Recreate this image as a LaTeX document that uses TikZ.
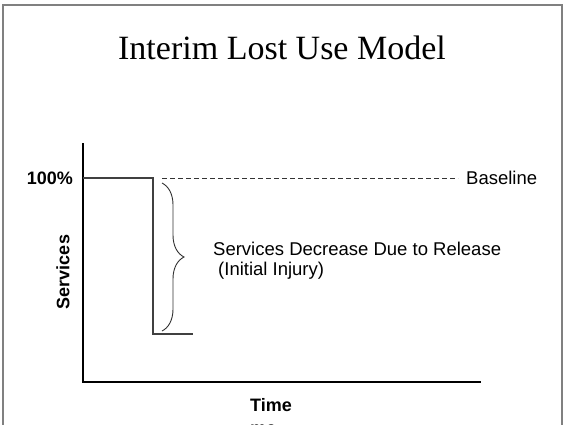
\documentclass[tikz,border=0pt]{standalone}
\usepackage{fontspec}
\setmainfont{Liberation Sans}
\newfontfamily\titlefamily{Liberation Serif}
\usetikzlibrary{positioning,calc,decorations.pathreplacing}
\tikzset{>=stealth}
\tikzset{
  frame/.style={draw=black!50,line width=1.5pt},
  axis/.style={draw=black,line width=2pt},
  level/.style={draw=black!75,line width=1.2pt},
  base/.style={draw=black!80,line width=0.9pt,dash pattern=on 5pt off 3pt},
  lbl/.style={inner sep=0pt,font=\fontsize{18.5}{22}\selectfont},
  blbl/.style={inner sep=0pt,font=\bfseries\fontsize{18}{23}\selectfont}
}

\begin{document}
\begin{tikzpicture}[x=1pt,y=-1pt]
\useasboundingbox (0,0) rectangle (564,424);
\clip (0,0) rectangle (564,424);
\fill[white] (0,0) rectangle (564,424);
\draw[frame] (3,5) rectangle (562,460);

\node[anchor=base,inner sep=0pt,font=\titlefamily\fontsize{34}{39}\selectfont] (title) at (282,59) {Interim Lost Use Model};

% axes
\coordinate (O) at (83,382);
\coordinate (Ytop) at (83,143);
\coordinate (Xend) at (481,382);
\draw[axis] (Ytop) -- (O) -- (Xend);

% service level before and after the release
\coordinate (L0) at (83,178);
\coordinate (L1) at (153,178);
\coordinate (L2) at (153,334);
\coordinate (L3) at (193,334);
\draw[level] (L0) -- (L1) -- (L2) -- (L3);

\coordinate (B0) at (162,178);
\coordinate (B1) at (458,178);
\draw[base] (B0) -- (B1);
\node[lbl,anchor=base west] (baseline) at (466,184) {Baseline};

\node[blbl,anchor=base east] (full) at (73,184) {100\%};
\node[blbl,rotate=90] (services) at (63,272) {Services};
\node[blbl,anchor=base west] (time) at (250,411) {Time};
\node[blbl,anchor=base west] (me) at (250,434) {me};

% the drop
\coordinate (Btop) at (162,183);
\coordinate (Bbot) at (162,331);
\draw[black!80,line width=0.9pt,decorate,decoration={brace,amplitude=22pt}] (Btop) -- (Bbot);
\node[lbl,anchor=base west] (decrease) at (213,255) {Services Decrease Due to Release};
\node[lbl,anchor=base west] (injury) at (218,275) {(Initial Injury)};
\end{tikzpicture}
\end{document}
